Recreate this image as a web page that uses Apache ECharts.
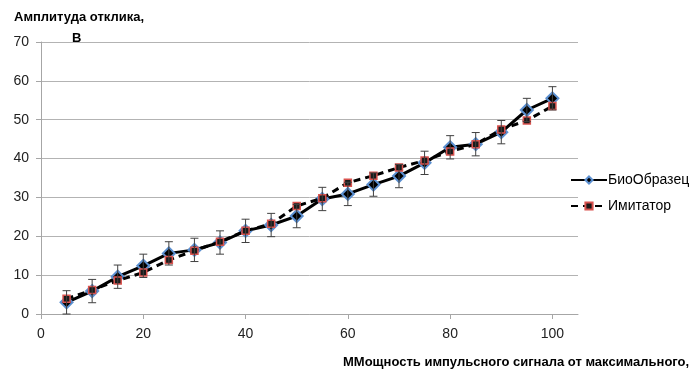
<!DOCTYPE html>
<html>
<head>
<meta charset="utf-8">
<script src="https://cdn.jsdelivr.net/npm/echarts@6/dist/echarts.min.js"></script>
<style>html,body{margin:0;padding:0;background:#fff;}#c{width:691px;height:369px;}</style>
</head>
<body>
<div id="c"></div>
<script>
const xValues = [5,10,15,20,25,30,35,40,45,50,55,60,65,70,75,80,85,90,95,100];
const bioValues = [3.0,5.9,9.6,12.4,15.6,16.5,18.4,21.4,22.9,25.2,29.6,30.9,33.3,35.5,38.9,42.9,43.7,46.8,52.5,55.5];
const imitValues = [3.9,6.2,8.6,10.7,13.9,16.3,18.6,21.4,23.2,27.8,29.8,33.8,35.6,37.7,39.5,41.8,43.7,47.5,49.8,53.5];
const bioError = 3.0;
const xTickLabels = [0,20,40,60,80,100];
const yTickLabels = [0,10,20,30,40,50,60,70];

const font = 'Liberation Sans, Arial, sans-serif';
const bioData = xValues.map((x,i)=>[x,bioValues[i]]);
const imitData = xValues.map((x,i)=>[x,imitValues[i]]);
const errData = xValues.map((x,i)=>[x,bioValues[i]-bioError,bioValues[i]+bioError]);

const chart = echarts.init(document.getElementById('c'), null, {renderer:'canvas'});
chart.setOption({
  animation:false,
  backgroundColor:'#fff',
  title:[
    {text:'Амплитуда отклика,', left:9, top:6, textStyle:{fontFamily:font,fontSize:13,fontWeight:'bold',color:'#000'}},
    {text:'В', left:67, top:27, textStyle:{fontFamily:font,fontSize:13,fontWeight:'bold',color:'#000'}},
    {text:'ММощность импульсного сигнала от максимального, %', left:338, top:351, textStyle:{fontFamily:font,fontSize:13,fontWeight:'bold',color:'#000'}}
  ],
  legend:{
    orient:'vertical', left:565, top:168, itemWidth:36, itemHeight:9, itemGap:12,
    textStyle:{fontFamily:font,fontSize:14,color:'#000',padding:[0,0,0,-4]},
    data:['БиоОбразец','Имитатор']
  },
  grid:{left:41,right:113,top:42,bottom:55},
  xAxis:{
    type:'value', min:0, max:105, interval:20,
    axisLine:{show:true,lineStyle:{color:'#a6a6a6'}},
    axisTick:{show:true,length:5,lineStyle:{color:'#a6a6a6'},customValues:xTickLabels},
    axisLabel:{customValues:xTickLabels,fontFamily:font,fontSize:14,color:'#222',margin:13},
    splitLine:{show:false}
  },
  yAxis:{
    type:'value', min:0, max:70, interval:10,
    axisLine:{show:true,lineStyle:{color:'#a6a6a6'}},
    axisTick:{show:true,length:5,lineStyle:{color:'#a6a6a6'}},
    axisLabel:{fontFamily:font,fontSize:14,color:'#222',margin:12},
    splitLine:{show:true,lineStyle:{color:'#b3b3b3'}}
  },
  series:[
    {
      name:'БиоОбразец', type:'line', data:bioData, z:3,
      symbol:'diamond', symbolSize:12,
      lineStyle:{color:'#000',width:3},
      itemStyle:{color:'#000',borderColor:'#5b8fd0',borderWidth:2}
    },
    {
      name:'Имитатор', type:'line', data:imitData, z:4,
      symbol:'rect', symbolSize:7,
      lineStyle:{color:'#000',width:3,type:[7,5]},
      itemStyle:{color:'#1a1a1a',borderColor:'#d9534f',borderWidth:1.5}
    },
    {
      name:'err', type:'custom', data:errData, z:5,
      renderItem:function(params,api){
        const x=api.value(0), lo=api.value(1), hi=api.value(2);
        const p1=api.coord([x,lo]), p2=api.coord([x,hi]);
        const w=4;
        const st={stroke:'#404040',lineWidth:1};
        return {type:'group',children:[
          {type:'line',shape:{x1:p1[0],y1:p1[1],x2:p2[0],y2:p2[1]},style:st},
          {type:'line',shape:{x1:p1[0]-w,y1:p1[1],x2:p1[0]+w,y2:p1[1]},style:st},
          {type:'line',shape:{x1:p2[0]-w,y1:p2[1],x2:p2[0]+w,y2:p2[1]},style:st}
        ]};
      },
      encode:{x:0,y:[1,2]}
    }
  ]
});
</script>
</body>
</html>
